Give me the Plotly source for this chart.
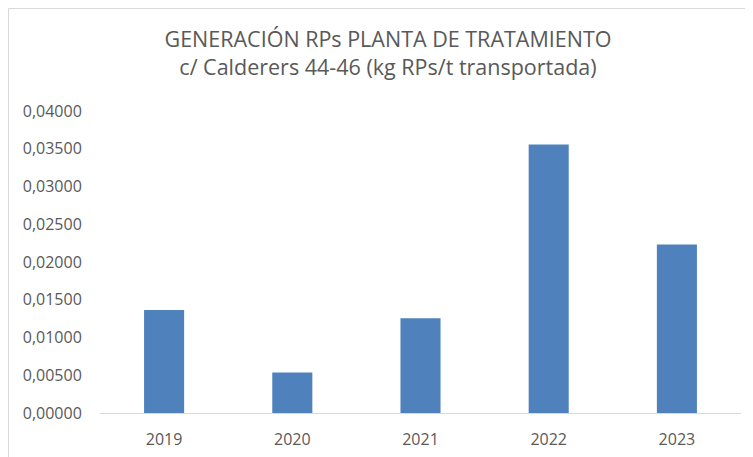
import plotly.graph_objects as go

years = ["2019", "2020", "2021", "2022", "2023"]
values = [0.01365, 0.00537, 0.01255, 0.03555, 0.02233]
y_ticks = [0, 0.005, 0.01, 0.015, 0.02, 0.025, 0.03, 0.035, 0.04]

# page body adds an 8px offset; figure sized to fit the window
OFF = 8
W, H = 753 - OFF, 457 - OFF
L, R, T, B = 92, 12, 103, 44
pw, ph = W - L - R, H - T - B

def px_x(x):
    return (x - OFF - L) / pw

def px_y(y):
    return (H - B - (y - OFF)) / ph

FONT = "Open Sans, sans-serif"
GRAY = "#595959"
BORDER = dict(color="#d9d9d9", width=1)

fig = go.Figure(go.Bar(x=years, y=values, marker=dict(color="#4f81bd", line=dict(width=0))))

fig.update_layout(
    width=W, height=H,
    margin=dict(l=L, r=R, t=T, b=B, autoexpand=False),
    paper_bgcolor="white", plot_bgcolor="white",
    separators=",.",
    bargap=0.6875,
    showlegend=False,
    font=dict(family=FONT, color=GRAY),
    title=dict(
        text="GENERACIÓN RPs PLANTA DE TRATAMIENTO<br>c/ Calderers 44-46 (kg RPs/t transportada)",
        x=380 / W, xanchor="center",
        y=1 - 39 / H, yanchor="middle",
        font=dict(family=FONT, size=21.5, color=GRAY),
    ),
    xaxis=dict(
        showgrid=False, showline=True, linecolor="#d9d9d9", linewidth=1,
        ticks="outside", ticklen=12, tickcolor="rgba(0,0,0,0)",
        tickfont=dict(family=FONT, size=16, color=GRAY),
        automargin=False, fixedrange=True,
    ),
    yaxis=dict(
        range=[0, 0.04], tickvals=y_ticks, tickformat=".5f",
        showgrid=False, showline=False, zeroline=False,
        ticks="outside", ticklen=14, tickcolor="rgba(0,0,0,0)",
        tickfont=dict(family=FONT, size=16, color=GRAY),
        automargin=False,
    ),
    shapes=[
        dict(type="line", xref="paper", yref="paper",
             x0=px_x(8.5), x1=px_x(753), y0=px_y(8.5), y1=px_y(8.5),
             line=BORDER, layer="below"),
        dict(type="line", xref="paper", yref="paper",
             x0=px_x(8.5), x1=px_x(8.5), y0=px_y(8.5), y1=px_y(457),
             line=BORDER, layer="below"),
    ],
)

fig.write_html("out.html")
